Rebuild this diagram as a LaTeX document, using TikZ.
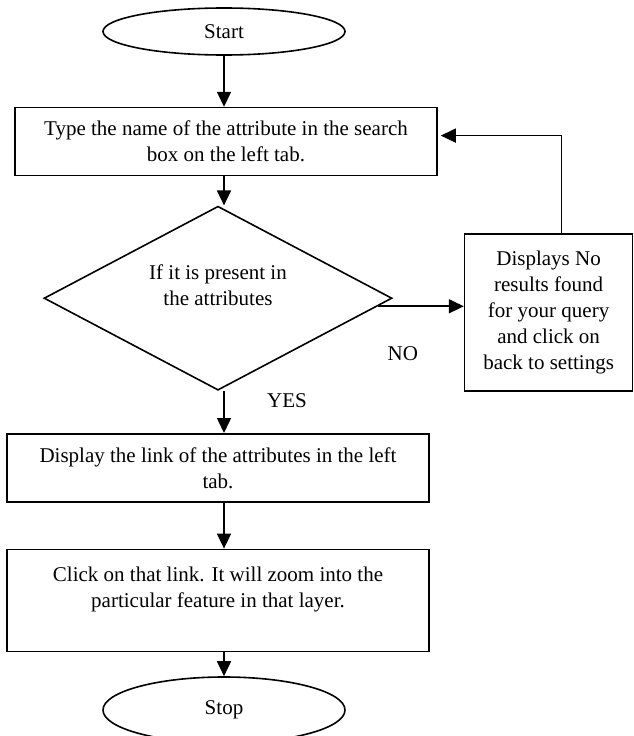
\documentclass[tikz,border=0pt]{standalone}
\usepackage{fontspec}
\setmainfont{Liberation Serif}
\usepackage{tikz}
\usetikzlibrary{arrows.meta, positioning, shapes.geometric, calc}

\begin{document}
\begin{tikzpicture}[
    x=1pt, y=1pt,
    every node/.style={font=\fontsize{21}{26}\selectfont},
    terminal/.style={draw, ellipse, line width=1.6pt, minimum width=242pt, minimum height=#1, inner sep=0pt},
    proc/.style={draw, rectangle, line width=1.6pt, minimum width=422pt, minimum height=#1, align=center, inner sep=0pt},
    decision/.style={draw, diamond, aspect=1.9, line width=1.6pt, minimum width=348pt, minimum height=184pt, align=center, inner sep=0pt},
    arr/.style={-{Triangle[length=15pt, width=14pt]}, line width=1.6pt},
    lbl/.style={inner sep=0pt},
]
    \useasboundingbox (0,0) rectangle (633,-736);

    % Main column
    \node[terminal=47pt] (start) at (224,-31.5) {Start};
    \node[proc=68pt, below=51pt of start, xshift=2pt] (find) {Type the name of the attribute in the search\\box on the left tab.};
    \node[decision, below=29pt of find, xshift=-8pt] (check) {If it is present in\\the attributes\\ \mbox{}};
    \node[proc=68pt, below=42pt of check] (showlink) {Display the link of the attributes in the left\\tab.};
    \node[proc=102pt, below=46pt of showlink] (zoomto) {Click on that link. It will zoom into the\\particular feature in that layer.\\ \mbox{}};
    \node[terminal=66pt, below=24pt of zoomto, xshift=6pt] (stop) {Stop};

    % Side box
    \node[proc=157pt, minimum width=168pt, right=71pt of check, yshift=-14.5pt] (noresult) {Displays No\\results found\\for your query\\and click on\\back to settings};

    % Labels
    \node[lbl] (no) at ($(check.east)+(10,-55)$) {NO};
    \node[lbl] (yes) at ($(check.south)+(69,-10)$) {YES};

    % Arrows
    \coordinate (checkno) at ($(check.east)!0.087!(check.south)$);
    \draw[arr] (start.south) -- (start.south |- find.north);
    \draw[arr] (start.south |- find.south) -- (start.south |- check.north);
    \draw[arr] (start.south |- check.south) -- (start.south |- showlink.north);
    \draw[arr] (start.south |- showlink.south) -- (start.south |- zoomto.north);
    \draw[arr] (start.south |- zoomto.south) -- (stop.north);
    \draw[arr] (checkno) -- (checkno -| noresult.west);
    \draw[arr] ([xshift=13pt]noresult.north) |- ([xshift=3pt, yshift=6pt]find.east);
\end{tikzpicture}
\end{document}
